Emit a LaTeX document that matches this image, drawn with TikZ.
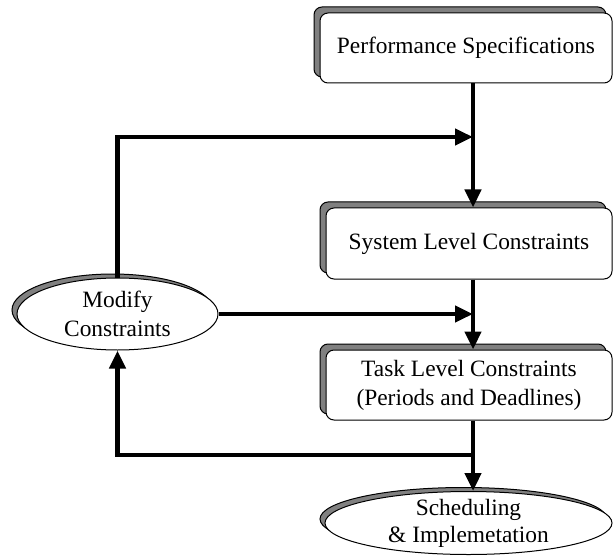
\documentclass[tikz,border=0pt]{standalone}
\usepackage{fontspec}
\setmainfont{Liberation Serif}
\usetikzlibrary{shapes.geometric,shadows,arrows.meta}
\begin{document}
\begin{tikzpicture}[x=1bp,y=-1bp,
  lbl/.style={font=\fontsize{23.5}{29}\selectfont, align=center},
  stage/.style={lbl, draw, fill=white, rounded corners=8bp, line width=1bp, inner sep=0pt,
    copy shadow={shadow xshift=-6bp, shadow yshift=6bp, fill=gray, draw=black, line width=1bp}},
  oval/.style={lbl, ellipse, draw, fill=white, line width=1bp, inner sep=0pt,
    copy shadow={shadow xshift=-5bp, shadow yshift=4bp, fill=gray, draw=black, line width=1bp}},
  flow/.style={line width=4.5bp, -{Triangle[length=18bp,width=16bp]}}
]
\useasboundingbox (0,0) rectangle (613,560);

% process stages
\node[stage, minimum width=292bp, minimum height=70bp] (perf) at (466,48) {Performance Specifications};
\node[stage, minimum width=286bp, minimum height=71bp] (sys) at (469,243.5) {System Level Constraints};
\node[stage, minimum width=286bp, minimum height=70bp] (task) at (469,385) {Task Level Constraints\\(Periods and Deadlines)};
\node[oval, minimum width=201bp, minimum height=72bp] (mod) at (117.5,314) {Modify\\Constraints};
\node[oval, minimum width=287bp, minimum height=63bp, inner ysep=-3bp, font=\fontsize{23.5}{27}\selectfont] (sched) at (468.5,523) {Scheduling\\\& Implemetation};

% junctions on the main flow line
\coordinate (spine) at (473,0);
\coordinate (join1) at (473,137);
\coordinate (join2) at (473,314);
\coordinate (fork) at (473,455);

% main flow
\draw[flow] (perf.south -| spine) -- (sys.north -| spine);
\draw[flow] (sys.south -| spine) -- (task.north -| spine);
\draw[flow] (task.south -| spine) -- (sched.north -| spine);

% feedback loop
\draw[flow] (mod.north) |- (join1);
\draw[flow] (mod.east) -- (join2);
\draw[flow] (fork) -| (mod.south);
\end{tikzpicture}
\end{document}
